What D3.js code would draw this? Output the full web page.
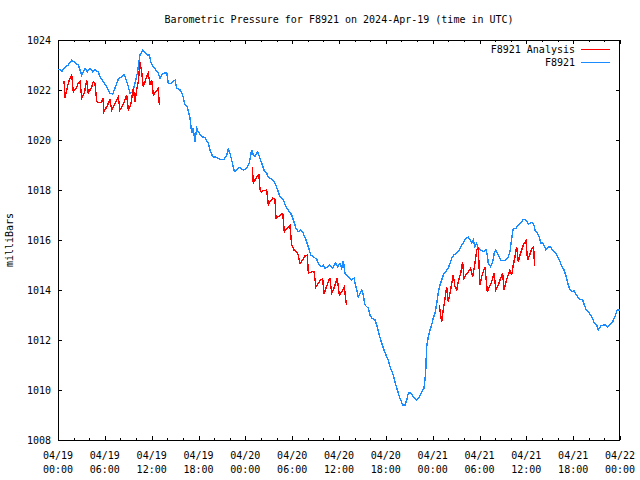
<!DOCTYPE html>
<html>
<head>
<meta charset="utf-8">
<script src="https://cdn.jsdelivr.net/npm/d3@7"></script>
<style>
html,body{margin:0;padding:0;background:#fff;}
svg text{font-family:"DejaVu Sans Mono","Liberation Mono",monospace;font-size:10px;fill:#000;}
</style>
</head>
<body>
<svg id="chart" width="640" height="480"></svg>
<script>
// ---- DATA ----
const title = "Barometric Pressure for F8921 on 2024-Apr-19 (time in UTC)";
const yLabel = "milliBars";
const seriesNames = ["F8921 Analysis", "F8921"];
const xTickHours = [0,6,12,18,24,30,36,42,48,54,60,66,72];
const xTickDates = ["04/19","04/19","04/19","04/19","04/20","04/20","04/20","04/20","04/21","04/21","04/21","04/21","04/22"];
const xTickTimes = ["00:00","06:00","12:00","18:00","00:00","06:00","12:00","18:00","00:00","06:00","12:00","18:00","00:00"];
const yTicks = [1008,1010,1012,1014,1016,1018,1020,1022,1024];

// F8921 observations: hours since 2024-04-19 00:00 UTC, pressure (mb)
const obsHours = [0.1,0.26,0.51,0.77,1.32,1.76,2.18,2.60,2.82,3.04,3.24,3.46,3.75,4.10,4.45,4.74,5.16,5.38,5.80,6.24,6.66,7.01,7.30,7.72,8.16,8.46,8.71,9.01,9.22,9.57,9.86,10.16,10.50,10.85,11.15,11.44,11.70,11.88,12.21,12.55,12.85,13.07,13.28,13.58,13.93,14.13,14.57,14.99,15.21,15.63,15.97,16.27,16.56,16.91,17.13,17.33,17.55,17.77,17.97,18.41,18.83,19.25,19.47,19.82,20.33,20.75,21.30,21.61,21.82,22.03,22.25,22.59,22.89,23.23,23.74,24.17,24.51,24.81,25.02,25.24,25.58,25.88,26.10,26.39,26.74,26.94,27.38,27.80,28.15,28.44,28.86,29.21,29.50,29.94,30.23,30.49,30.78,31.09,31.42,31.77,32.07,32.37,32.71,33.14,33.47,33.78,33.99,34.20,34.63,34.84,35.19,35.58,35.83,36.13,36.35,36.55,36.77,37.19,37.63,37.92,38.27,38.47,38.69,38.91,39.11,39.33,39.75,39.97,40.19,40.61,40.90,41.16,41.47,41.76,42.02,42.31,42.53,42.88,43.17,43.47,43.81,44.16,44.45,44.67,44.88,45.18,45.52,45.95,46.29,46.59,46.89,47.10,47.23,47.44,47.66,47.87,48.08,48.30,48.51,48.72,48.94,49.15,49.36,49.71,50.00,50.22,50.44,50.73,51.08,51.41,51.72,52.01,52.27,52.56,52.78,53.00,53.20,53.42,53.64,53.84,54.15,54.48,54.83,55.00,55.12,55.43,55.69,55.89,56.11,56.41,56.71,57.05,57.39,57.69,57.90,58.16,58.33,58.67,58.97,59.27,59.61,59.95,60.25,60.56,60.81,60.98,61.11,61.40,61.66,61.84,62.09,62.26,62.52,62.81,63.12,63.45,63.80,64.09,64.31,64.53,64.83,65.08,65.25,65.51,65.69,65.95,66.12,66.37,66.65,66.87,67.22,67.39,67.64,67.94,68.24,68.50,68.67,69.01,69.22,69.52,69.86,70.20,70.42,70.72,71.06,71.36,71.65,72.00];
const obsPressure = [1022.8,1022.83,1022.73,1022.87,1023.0,1023.2,1023.09,1023.0,1022.8,1022.6,1022.73,1022.87,1022.73,1022.87,1022.73,1022.8,1022.73,1022.53,1022.33,1022.13,1021.87,1021.84,1022.07,1022.43,1022.53,1022.63,1022.43,1022.13,1021.87,1021.93,1022.27,1022.67,1023.4,1023.6,1023.5,1023.4,1023.4,1023.13,1022.93,1022.8,1022.67,1022.47,1022.6,1022.67,1022.69,1022.27,1022.27,1022.4,1022.07,1022.0,1021.8,1021.4,1021.33,1020.87,1020.27,1020.47,1019.93,1020.47,1020.33,1020.13,1020.1,1019.87,1019.6,1019.33,1019.31,1019.23,1019.23,1019.4,1019.63,1019.47,1019.2,1018.73,1018.8,1018.91,1018.8,1018.87,1019.07,1019.6,1019.4,1019.33,1019.53,1019.27,1019.07,1018.8,1018.67,1018.51,1018.44,1018.27,1018.0,1017.73,1017.6,1017.33,1017.2,1017.0,1016.73,1016.47,1016.33,1016.4,1016.27,1016.0,1015.73,1015.4,1015.33,1015.23,1015.0,1014.93,1015.0,1014.87,1014.93,1015.0,1014.87,1015.09,1014.93,1015.07,1014.87,1015.17,1014.67,1014.53,1014.4,1014.47,1014.0,1013.73,1013.87,1014.0,1013.8,1013.4,1013.27,1013.0,1012.87,1012.8,1012.53,1012.2,1011.87,1011.6,1011.4,1011.2,1010.93,1010.67,1010.33,1010.0,1009.67,1009.4,1009.4,1009.6,1009.87,1009.89,1009.73,1009.6,1009.73,1009.93,1010.07,1010.67,1011.73,1012.13,1012.4,1012.6,1012.87,1013.07,1013.45,1013.9,1014.2,1014.4,1014.6,1014.75,1014.87,1015.07,1015.27,1015.4,1015.47,1015.6,1015.8,1015.93,1016.07,1016.11,1016.03,1015.89,1016.0,1015.73,1015.87,1015.67,1015.6,1015.53,1015.6,1015.4,1015.07,1014.93,1015.13,1015.47,1015.6,1015.4,1015.2,1015.17,1015.2,1015.33,1015.53,1016.13,1016.47,1016.47,1016.6,1016.67,1016.83,1016.8,1016.64,1016.69,1016.69,1016.6,1016.4,1016.27,1016.11,1015.87,1015.89,1015.8,1015.6,1015.73,1015.71,1015.57,1015.47,1015.27,1015.13,1014.96,1014.8,1014.56,1014.33,1014.07,1013.97,1013.93,1013.97,1013.8,1013.71,1013.63,1013.6,1013.44,1013.23,1013.13,1013.0,1012.87,1012.69,1012.6,1012.4,1012.56,1012.6,1012.6,1012.51,1012.6,1012.73,1012.93,1013.2,1013.2];

// F8921 Analysis: three segments
const anaHours1 = [0.77,0.90,1.02,1.32,1.54,1.76,1.96,2.31,2.60,2.82,3.04,3.37,3.68,3.88,4.10,4.32,4.52,4.74,4.96,5.38,5.60,5.80,5.89,6.24,6.66,6.88,7.21,7.52,7.72,7.94,8.29,8.58,8.80,9.01,9.31,9.65,9.86,10.08,10.29,10.50,10.72,10.93,11.15,11.36,11.57,11.79,12.00,12.21,12.55,12.85,12.98];
const anaPressure1 = [1022.37,1021.67,1021.87,1022.27,1022.47,1022.6,1021.93,1022.07,1022.27,1022.33,1021.67,1021.87,1022.4,1021.87,1022.0,1022.13,1022.33,1022.27,1021.53,1021.49,1021.53,1021.67,1021.13,1021.33,1021.6,1021.2,1021.4,1021.6,1021.73,1021.2,1021.4,1021.6,1021.8,1021.2,1021.4,1022.07,1021.53,1022.0,1022.33,1023.13,1022.73,1022.13,1022.33,1022.53,1022.67,1022.2,1022.4,1021.8,1021.93,1022.07,1021.4];
const anaHours2 = [24.89,25.02,25.24,25.46,25.75,25.88,26.10,26.30,26.74,26.94,27.16,27.50,27.80,27.93,28.22,28.79,28.99,29.30,29.72,29.94,30.23,30.58,30.78,31.00,31.35,31.64,31.94,32.07,32.50,32.80,33.05,33.35,33.65,33.91,34.08,34.33,34.63,34.84,35.06,35.36,35.70,35.78,36.04,36.35,36.68,36.86,36.98];
const anaPressure2 = [1018.93,1018.27,1018.4,1018.53,1018.6,1018.0,1017.93,1017.97,1018.0,1017.4,1017.53,1017.67,1017.63,1016.87,1016.93,1017.07,1016.33,1016.43,1016.56,1015.8,1015.6,1015.53,1015.4,1015.07,1015.2,1015.36,1015.4,1014.67,1014.73,1014.73,1014.13,1014.27,1014.4,1014.44,1013.84,1014.07,1014.33,1014.49,1013.87,1014.07,1014.4,1014.47,1013.8,1013.93,1014.13,1013.6,1013.4];
const anaHours3 = [48.85,49.03,49.15,49.36,49.58,49.80,50.00,50.22,50.44,50.64,50.86,51.08,51.28,51.59,51.84,52.01,52.27,52.56,52.87,53.12,53.42,53.64,53.84,54.06,54.28,54.48,54.70,55.00,55.25,55.56,55.85,56.11,56.41,56.71,56.97,57.14,57.39,57.69,57.90,58.12,58.33,58.54,58.76,58.97,59.19,59.40,59.70,59.95,60.16,60.42,60.72,60.93,61.06];
const anaPressure3 = [1013.4,1013.0,1012.73,1013.2,1013.67,1014.13,1013.53,1013.87,1014.27,1014.6,1014.13,1014.0,1014.33,1014.67,1015.13,1014.47,1014.6,1014.73,1014.87,1014.53,1015.07,1015.6,1015.67,1014.2,1014.53,1014.73,1014.93,1013.93,1014.13,1014.33,1014.67,1014.0,1014.2,1014.47,1014.67,1014.0,1014.33,1014.6,1014.8,1014.6,1015.0,1015.33,1015.73,1015.13,1015.4,1015.6,1015.87,1015.96,1015.2,1015.4,1015.67,1015.73,1014.96];

// ---- DRAW ----
const svg = d3.select("#chart");
const L = 58, R = 620, T = 40, B = 440;
const x = d3.scaleLinear().domain([0, 72]).range([L, R]);
const y = d3.scaleLinear().domain([1008, 1024]).range([B, T]);

const blueColor = "#1a8cff", redColor = "#ff0000";

// title
svg.append("text").attr("x", 339).attr("y", 23).attr("text-anchor", "middle").text(title);

// y label
svg.append("text").attr("transform", "translate(13,240) rotate(-90)")
  .attr("text-anchor", "middle").text(yLabel);

const g = svg.append("g").attr("shape-rendering", "crispEdges");

// ticks (inward, mirrored)
const minorHours = d3.range(0, 73, 2);
minorHours.forEach(h => {
  const major = h % 6 === 0;
  const len = major ? 4 : 2;
  const px = Math.round(x(h)) + 0.5;
  g.append("line").attr("x1", px).attr("x2", px).attr("y1", B).attr("y2", B - len).attr("stroke", "#000");
  g.append("line").attr("x1", px).attr("x2", px).attr("y1", T).attr("y2", T + len).attr("stroke", "#000");
});
yTicks.forEach(v => {
  const py = Math.round(y(v)) + 0.5;
  g.append("line").attr("x1", L).attr("x2", L + 4).attr("y1", py).attr("y2", py).attr("stroke", "#000");
  g.append("line").attr("x1", R).attr("x2", R - 4).attr("y1", py).attr("y2", py).attr("stroke", "#000");
  svg.append("text").attr("x", 51).attr("y", y(v)).attr("dy", "0.35em")
    .attr("text-anchor", "end").text(v);
});
xTickHours.forEach((h, i) => {
  svg.append("text").attr("x", x(h)).attr("y", 459).attr("text-anchor", "middle").text(xTickDates[i]);
  svg.append("text").attr("x", x(h)).attr("y", 473).attr("text-anchor", "middle").text(xTickTimes[i]);
});

// border
g.append("rect").attr("x", L + 0.5).attr("y", T + 0.5).attr("width", R - L - 1).attr("height", B - T)
  .attr("fill", "none").attr("stroke", "#000");

// lines
const line = d3.line().x(d => x(d[0])).y(d => y(d[1]));
const plot = svg.append("g").attr("shape-rendering", "crispEdges");
plot.append("path").datum(d3.zip(obsHours, obsPressure))
  .attr("d", line).attr("fill", "none").attr("stroke", blueColor).attr("stroke-width", 1.4);
[[anaHours1, anaPressure1], [anaHours2, anaPressure2], [anaHours3, anaPressure3]].forEach(([hs, ps]) => {
  plot.append("path").datum(d3.zip(hs, ps))
    .attr("d", line).attr("fill", "none").attr("stroke", redColor).attr("stroke-width", 1.4);
});

// legend
const legendColors = [redColor, blueColor];
seriesNames.forEach((name, i) => {
  const ly = 49 + i * 13;
  svg.append("text").attr("x", 575).attr("y", ly).attr("dy", "0.35em").attr("text-anchor", "end").text(name);
  svg.append("line").attr("x1", 581).attr("x2", 610).attr("y1", ly + 0.5).attr("y2", ly + 0.5)
    .attr("stroke", legendColors[i]).attr("shape-rendering", "crispEdges");
});
</script>
</body>
</html>
